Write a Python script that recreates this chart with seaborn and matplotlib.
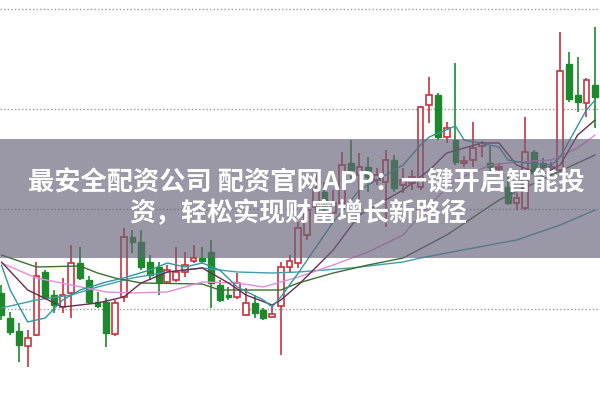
import numpy as np
import pandas as pd
import matplotlib
matplotlib.use("Agg")
import matplotlib.pyplot as plt
from matplotlib.patches import Rectangle
import seaborn as sns

# ---- candle data (prices) ----
opens = [10.16, 9.91, 9.78, 9.63, 9.74, 10.37, 10.14, 10.02, 10.16, 10.46,
         10.29, 10.07, 10.07, 9.75, 10.12, 10.72, 10.67, 10.47, 10.42, 10.27,
         10.29, 10.37, 10.48, 10.51, 10.57, 10.24, 10.14, 10.12, 9.94, 10.06,
         9.99, 9.92, 10.03, 10.42, 10.46, 10.74, 11.02, 11.17, 10.96, 11.06,
         11.46, 11.34, 11.42, 11.29, 11.27, 11.49, 11.24, 11.26, 11.22, 12.04,
         12.14, 11.72, 11.69, 11.46, 11.49, 11.63, 11.46, 11.40, 11.22, 11.06,
         11.01, 11.57, 11.46, 11.40, 11.39, 12.45, 12.14, 12.06, 12.24]
closes = [9.94, 9.77, 9.64, 9.71, 10.33, 10.12, 10.04, 10.14, 10.46, 10.31,
          10.07, 10.03, 9.76, 10.06, 10.72, 10.67, 10.42, 10.34, 10.27, 10.39,
          10.37, 10.44, 10.51, 10.48, 10.26, 10.09, 10.12, 10.26, 10.06, 9.96,
          9.91, 9.95, 10.42, 10.48, 10.81, 10.99, 11.19, 11.01, 11.06, 11.44,
          11.39, 11.42, 11.32, 11.34, 11.49, 11.21, 11.29, 11.32, 12.02, 12.14,
          11.72, 11.81, 11.47, 11.48, 11.61, 11.66, 11.42, 11.42, 11.06, 11.11,
          11.57, 11.36, 11.42, 11.42, 12.38, 12.10, 12.07, 12.29, 12.12]
highs = [10.24, 9.97, 9.86, 9.79, 10.47, 10.39, 10.19, 10.31, 10.64, 10.62,
         10.33, 10.17, 10.11, 10.09, 10.81, 10.79, 10.79, 10.54, 10.47, 10.44,
         10.62, 10.57, 10.64, 10.62, 10.69, 10.29, 10.22, 10.36, 10.21, 10.14,
         10.01, 10.02, 10.47, 10.54, 10.87, 11.09, 11.36, 11.27, 11.19, 11.57,
         11.69, 11.56, 11.52, 11.41, 11.59, 11.54, 11.41, 11.39, 12.03, 12.32,
         12.16, 11.87, 12.46, 11.53, 11.87, 11.68, 11.63, 11.46, 11.36, 11.16,
         11.92, 11.59, 11.51, 11.47, 12.77, 12.57, 12.52, 12.31, 12.82]
lows = [9.89, 9.74, 9.47, 9.42, 9.73, 10.10, 9.96, 9.96, 9.91, 10.29,
        10.05, 10.01, 9.62, 9.73, 10.07, 10.56, 10.39, 10.29, 10.14, 10.25,
        10.27, 10.32, 10.46, 10.46, 10.01, 10.07, 10.09, 10.10, 9.93, 9.91,
        9.89, 9.91, 9.54, 10.37, 10.41, 10.69, 10.94, 10.97, 10.89, 10.92,
        11.27, 11.09, 11.17, 11.24, 10.82, 11.17, 11.16, 11.19, 11.19, 11.86,
        11.69, 11.66, 11.44, 11.42, 11.42, 11.52, 11.36, 11.37, 11.04, 10.99,
        10.99, 11.34, 11.27, 11.34, 11.37, 12.07, 11.97, 11.92, 11.81]

# ---- moving-average lines (candle index, price) ----
ma_fast_idx = [0, 1, 3, 5, 7, 9, 12, 14, 17, 19, 21, 23, 25, 27, 30, 31, 32, 34,
               38, 41, 46, 48, 49, 52, 53, 57, 58, 60, 63, 64, 67, 68]
ma_fast_val = [10.44, 10.19, 9.87, 9.91, 10.09, 10.19, 10.27, 10.31, 10.39, 10.46,
               10.42, 10.46, 10.39, 10.22, 10.09, 10.02, 10.12, 10.36, 10.87, 11.19,
               11.44, 11.64, 11.72, 11.83, 11.69, 11.62, 11.49, 11.46, 11.44, 11.52,
               11.99, 12.09]
ma_slow_idx = [0, 4, 8, 11, 15, 19, 23, 27, 31, 34, 40, 46, 48, 51, 59, 64, 68]
ma_slow_val = [10.01, 10.09, 10.14, 10.22, 10.31, 10.37, 10.41, 10.37, 10.36, 10.37,
               10.41, 10.47, 10.51, 10.56, 10.69, 10.84, 10.99]
ma_pink_idx = [0, 4, 8, 12, 15, 19, 23, 27, 30, 34, 38, 42, 46, 49, 52, 56, 59, 63, 66, 68]
ma_pink_val = [10.46, 10.31, 10.24, 10.17, 10.16, 10.17, 10.27, 10.26, 10.22, 10.32,
               10.44, 10.57, 10.74, 11.04, 11.29, 11.44, 11.47, 11.49, 11.61, 11.74]
ma_olive_idx = [0, 4, 9, 11, 13, 16, 23, 25, 32, 34, 38, 42, 46, 51, 57, 63, 68]
ma_olive_val = [10.54, 10.42, 10.43, 10.36, 10.31, 10.26, 10.25, 10.19, 10.19, 10.26,
                10.36, 10.44, 10.51, 10.74, 11.09, 11.34, 11.54]
ma_dark_idx = [0, 3, 7, 11, 14, 16, 19, 23, 26, 28, 31, 32, 34, 38, 41, 46, 49, 51,
               55, 57, 59, 62, 64, 66, 68]
ma_dark_val = [10.47, 10.19, 10.02, 10.06, 10.12, 10.26, 10.37, 10.41, 10.26, 10.14,
               10.04, 10.09, 10.24, 10.59, 10.94, 11.19, 11.39, 11.56, 11.66, 11.66,
               11.44, 11.34, 11.44, 11.74, 11.89]

grid_levels = [10, 11, 12, 13]

title_lines = ["最安全配资公司 配资官网APP：一键开启智能投",
               "资，轻松实现财富增长新路径"]

# ---- drawing ----
sns.set_style("white")
plt.rcParams['font.family'] = ['Noto Sans CJK SC', 'DejaVu Sans']

fig = plt.figure(figsize=(6, 3.99), dpi=100)
ax = fig.add_axes([0, 0, 1, 1])

df = pd.DataFrame(dict(i=np.arange(len(opens)), o=opens, c=closes, h=highs, l=lows))
up = df.c >= df.o
RED = '#c8323f'
GREEN = '#1c8a2c'

for g in grid_levels:
    ax.axhline(g, color='#9a9a9a', ls=(0, (1, 1.6)), lw=1.0, zorder=0)

ax.vlines(df.i, df.l, df.h, colors=np.where(up, RED, GREEN), lw=1.2, zorder=2)
bottom = np.minimum(df.o, df.c)
height = np.maximum((df.c - df.o).abs(), 0.02)
ax.bar(df.i[up], height[up], bottom=bottom[up], width=0.66,
       facecolor='white', edgecolor=RED, linewidth=1.2, zorder=3)
ax.bar(df.i[~up], height[~up], bottom=bottom[~up], width=0.66,
       facecolor=GREEN, edgecolor=GREEN, linewidth=1.0, zorder=3)

lines = [
    (ma_slow_idx, ma_slow_val, '#3f9fa8'),
    (ma_olive_idx, ma_olive_val, '#3f6e35'),
    (ma_pink_idx, ma_pink_val, '#e58ae0'),
    (ma_dark_idx, ma_dark_val, '#6a2c50'),
    (ma_fast_idx, ma_fast_val, '#2f97a0'),
]
for xi, yv, col in lines:
    sns.lineplot(x=xi, y=yv, ax=ax, color=col, lw=1.0, zorder=4,
                 errorbar=None, legend=False)

ax.set_xlim(-0.17, 68.56)
ax.set_ylim(9.10, 13.09)
ax.axis('off')

# banner
fig.patches.append(Rectangle((0, (399 - 258) / 399), 1, 119 / 399,
                             transform=fig.transFigure, facecolor=(0.40, 0.39, 0.47),
                             alpha=0.66, edgecolor='none', zorder=10))
fig.text(306 / 600, 1 - 183 / 399, title_lines[0], ha='center', va='center',
         color='white', fontsize=18.9, fontweight='bold', zorder=11)
fig.text(298 / 600, 1 - 214 / 399, title_lines[1], ha='center', va='center',
         color='white', fontsize=18.7, fontweight='bold', zorder=11)

fig.savefig("out.png", dpi=100)
